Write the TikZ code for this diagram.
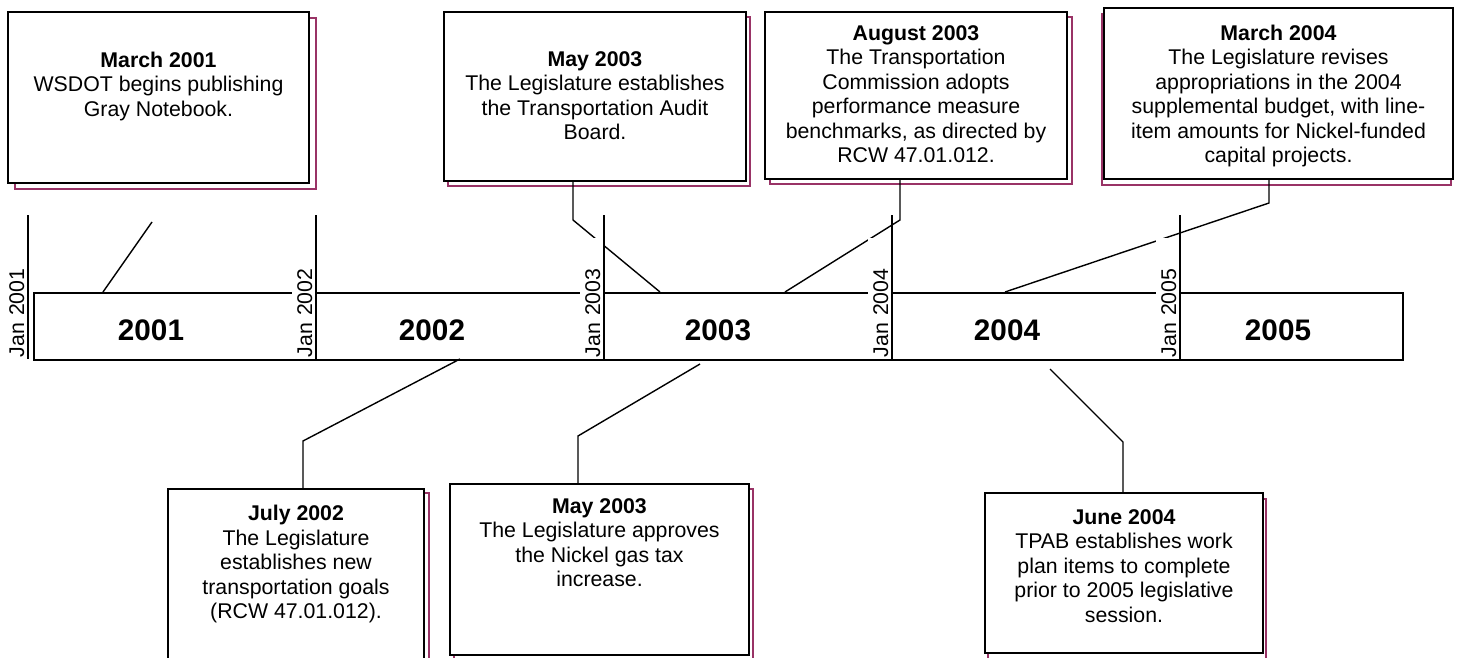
\documentclass[tikz,border=0pt]{standalone}
\usepackage{fontspec}
\setmainfont{Liberation Sans}
\usetikzlibrary{shadows,positioning,calc}
\definecolor{shcol}{RGB}{153,51,102}
\newcommand\evfont{\fontsize{21.3}{24.5}\selectfont}
\newcommand\yrfont{\bfseries\fontsize{29.7}{32}\selectfont}
\tikzset{
  evbox/.style n args={4}{draw=black, line width=2pt, fill=white, inner sep=0pt,
    anchor=north west, minimum width=#1, minimum height=#2,
    copy shadow={shadow xshift=#3, shadow yshift=#4, draw=shcol, fill=white,
      line width=2pt, opacity=1}},
  evtext/.style={font=\evfont, align=center, inner sep=0pt, anchor=north},
  barbox/.style={draw=black, line width=2pt, inner sep=0pt, anchor=north west},
  conn/.style={draw=black, line width=1.4pt},
  tick/.style={draw=black, line width=2pt},
  jan/.style={rotate=90, fill=white, inner sep=0pt, text height=20pt, text depth=3pt,
    text width=119pt, align=left, anchor=base west, font=\fontsize{21.3}{24}\selectfont},
  yr/.style={font=\yrfont, anchor=base, inner sep=0pt},
}
\begin{document}
\begin{tikzpicture}[x=1pt,y=-1pt]
\useasboundingbox (0,0) rectangle (1457,658);
\clip (0,0) rectangle (1457,658);

% event boxes above the time line
\node[evbox={301}{171}{7pt}{-6pt}] (e1) at (7,11) {};
\node[evbox={302}{169}{4pt}{-5pt}] (e2) at (443,11) {};
\node[evbox={302}{167}{5pt}{-5pt}] (e3) at (764,11) {};
\node[evbox={349}{171}{-2pt}{-6pt}] (e4) at (1103,7) {};
% event boxes below the time line
\node[evbox={256}{220}{5pt}{-4pt}] (e5) at (167,488) {};
\node[evbox={299}{171}{4pt}{-5pt}] (e6) at (449,483) {};
\node[evbox={278}{160}{3pt}{-6pt}] (e7) at (984,492) {};

\node[evtext, below=40.4pt of e1.north] {\textbf{March 2001}\\WSDOT begins publishing\\Gray Notebook.};
\node[evtext, below=40.4pt of e2.north] {\textbf{May 2003}\\The Legislature establishes\\the Transportation Audit\\Board.};
\node[evtext, below=14.4pt of e3.north] {\textbf{August 2003}\\The Transportation\\Commission adopts\\performance measure\\benchmarks, as directed by\\RCW 47.01.012.};
\node[evtext, below=17.4pt of e4.north] {\textbf{March 2004}\\The Legislature revises\\appropriations in the 2004\\supplemental budget, with line-\\item amounts for Nickel-funded\\capital projects.};
\node[evtext, below=17.1pt of e5.north] {\textbf{July 2002}\\The Legislature\\establishes new\\transportation goals\\(RCW 47.01.012).};
\node[evtext, below=15.4pt of e6.north] {\textbf{May 2003}\\The Legislature approves\\the Nickel gas tax\\increase.};
\node[evtext, below=17.1pt of e7.north] {\textbf{June 2004}\\TPAB establishes work\\plan items to complete\\prior to 2005 legislative\\session.};

% the time line bar
\node[barbox, minimum width=1369, minimum height=67] (bar) at (33,292) {};

% connector end points on the bar and bend points
\coordinate (a1) at (103,292);  \coordinate (k1) at (152,222);
\coordinate (a2) at (660,292);  \coordinate (k2) at (573,220);
\coordinate (a3) at (785,292);  \coordinate (k3) at (900,220);
\coordinate (a4) at (1005,292); \coordinate (k4) at (1269,203);
\coordinate (a5) at (460,359);  \coordinate (k5) at (303,441);
\coordinate (a6) at (700,364);  \coordinate (k6) at (578,436);
\coordinate (a7) at (1050,369); \coordinate (k7) at (1123,442);

\draw[conn] (a1) -- (k1);
\draw[conn] (e2.south -| k2) -- (k2) -- (a2);
\draw[conn] (e3.south -| k3) -- (k3) -- (a3);
\draw[conn] (e4.south -| k4) -- (k4) -- (a4);
\draw[conn] (a5) -- (k5) -- (k5 |- e5.north);
\draw[conn] (a6) -- (k6) -- (k6 |- e6.north);
\draw[conn] (a7) -- (k7) -- (k7 |- e7.north);

% year boundaries
\foreach \x in {28,316,604,892,1180}
  \draw[tick] (\x,215) -- (\x,359);

\node[jan] (j1) at (24,357.5) {Jan 2001};
\node[jan] (j2) at (312,357.5) {Jan 2002};
\node[jan] (j3) at (600,357.5) {Jan 2003};
\node[jan] (j4) at (888,357.5) {Jan 2004};
\node[jan] (j5) at (1176,357.5) {Jan 2005};

\node[yr] (y1) at (151,340) {2001};
\node[yr] (y2) at (432,340) {2002};
\node[yr] (y3) at (718,340) {2003};
\node[yr] (y4) at (1007,340) {2004};
\node[yr] (y5) at (1278,340) {2005};
\end{tikzpicture}
\end{document}
